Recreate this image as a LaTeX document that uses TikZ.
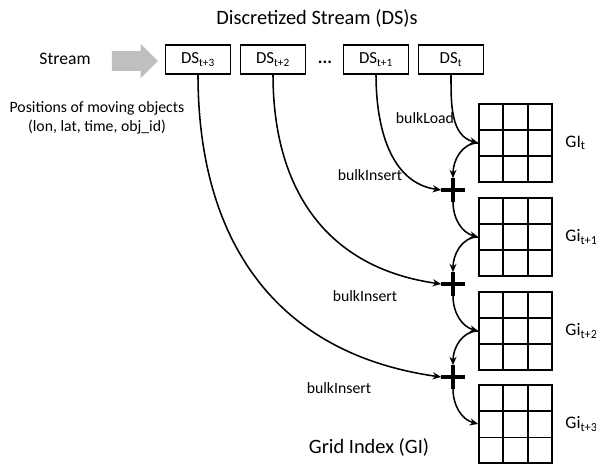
\documentclass[tikz,border=0pt]{standalone}
\usepackage{fontspec}
\setmainfont{Carlito}
\usetikzlibrary{calc,shapes.arrows,arrows.meta}
\newcommand\DSY{59.5}
\newcommand\GX{515.5}
\newcommand\PX{453}
\newcommand\LX{560}

\begin{document}
\begin{tikzpicture}
  [x=0.025cm, y=-0.025cm, line width=1.1pt,
   dsbox/.style = {
     draw, minimum width=1.62cm, minimum height=0.72cm, inner sep=0pt,
     font=\fontsize{12}{14}\selectfont
   },
   gridbox/.style = {
     draw, minimum width=1.825cm, minimum height=1.95cm, inner sep=0pt
   },
   plussign/.style = {
      inner sep=0cm, minimum size=0.55cm,
      append after command = {
        (\tikzlastnode.north) edge[line width=2.6pt] (\tikzlastnode.south)
        (\tikzlastnode.east) edge[line width=2.6pt] (\tikzlastnode.west)
     }
   },
   flow/.style = {
     -{Stealth[length=6pt, width=5pt]}
   },
   smalltext/.style = {font=\fontsize{11.2}{13.5}\selectfont},
   midtext/.style = {font=\fontsize{12.5}{15}\selectfont},
   bigtext/.style = {font=\fontsize{14.5}{17}\selectfont}]

	\useasboundingbox (0,0) rectangle (596,463);

	% Input stream.
	\node[bigtext] at (317, 18) (title) {Discretized Stream (DS)s};
	\node[midtext] at (65, 59) (stream) {Stream};
	\node[single arrow, fill=gray!50, inner sep=0.225cm, minimum height=1.15cm,
	      single arrow head extend=0.19cm] at (130, 61) (streamArrow) {};
	\node[smalltext, align=center] at (97, 118) (positions)
	  {Positions of moving objects\\(lon, lat, time, obj\_id)};

	% Discretized stream boxes.
	\node[dsbox] at (198, \DSY) (ds3) {DS\textsubscript{t+3}};
	\node[dsbox] at (273, \DSY) (ds2) {DS\textsubscript{t+2}};
	\node[midtext] at (325, 62) (dots) {\textbf{...}};
	\node[dsbox] at (376, \DSY) (ds1) {DS\textsubscript{t+1}};
	\node[dsbox] at (451, \DSY) (ds0) {DS\textsubscript{t}};

	% Grid indexes.
	\foreach \i/\y in {0/143, 1/237, 2/331, 3/424} {
	  \node[gridbox] at (\GX, \y) (gi\i) {};
	  \foreach \f in {1,2} {
	    \draw ($(gi\i.north west)!\f/3!(gi\i.north east)$) -- ($(gi\i.south west)!\f/3!(gi\i.south east)$);
	    \draw ($(gi\i.north west)!\f/3!(gi\i.south west)$) -- ($(gi\i.north east)!\f/3!(gi\i.south east)$);
	  }
	}
	\node[midtext, anchor=west] at (\LX, 143) (giLabel0) {GI\textsubscript{t}};
	\node[midtext, anchor=west] at (\LX, 237) (giLabel1) {Gi\textsubscript{t+1}};
	\node[midtext, anchor=west] at (\LX, 331) (giLabel2) {Gi\textsubscript{t+2}};
	\node[midtext, anchor=west] at (\LX, 424) (giLabel3) {Gi\textsubscript{t+3}};
	\node[bigtext] at (369, 447) (gridIndex) {Grid Index (GI)};

	% Merge points.
	\node[plussign] at (\PX, 190) (plus1) {};
	\node[plussign] at (\PX, 284) (plus2) {};
	\node[plussign] at (\PX, 377) (plus3) {};

	\node[smalltext] at (425, 118) (bulkLoad) {bulkLoad};
	\node[smalltext] at (370, 175) (insert1) {bulkInsert};
	\node[smalltext] at (365, 296) (insert2) {bulkInsert};
	\node[smalltext] at (339, 388) (insert3) {bulkInsert};

	% Connectors.
	\draw[flow] (ds0.south) to[out=-90, in=165] (gi0.west);
	\draw[flow] (gi0.west) to[out=180, in=90] (plus1.north);
	\draw[flow] (ds1.south) to[out=-90, in=172] (plus1.west);
	\draw[flow] (plus1.south) to[out=-90, in=165] (gi1.west);

	\draw[flow] (gi1.west) to[out=180, in=90] (plus2.north);
	\draw[flow] (ds2.south) to[out=-90, in=172, looseness=1.1] (plus2.west);
	\draw[flow] (plus2.south) to[out=-90, in=165] (gi2.west);

	\draw[flow] (gi2.west) to[out=180, in=90] (plus3.north);
	\draw[flow] (ds3.south) to[out=-90, in=172, looseness=1.1] (plus3.west);
	\draw[flow] (plus3.south) to[out=-90, in=165] (gi3.west);

\end{tikzpicture}
\end{document}
